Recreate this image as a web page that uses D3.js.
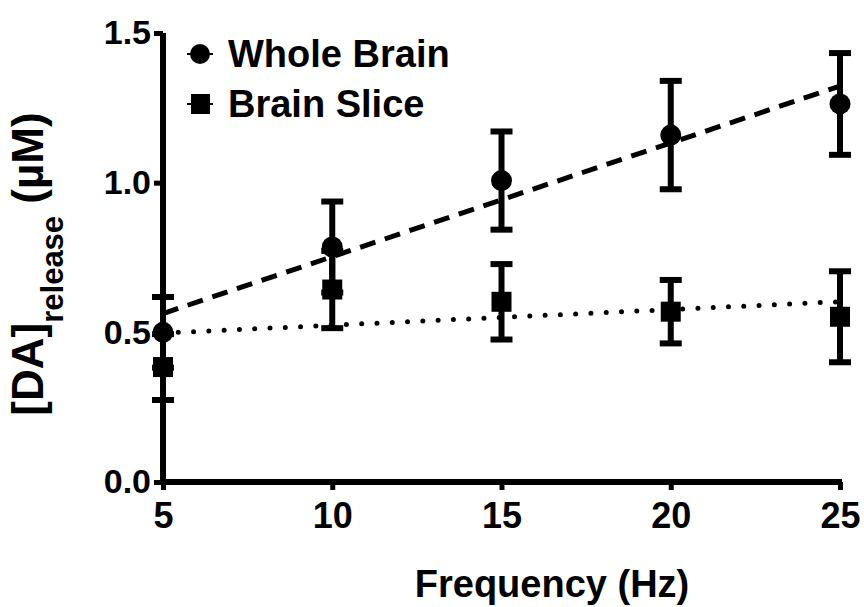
<!DOCTYPE html>
<html>
<head>
<meta charset="utf-8">
<script src="https://cdn.jsdelivr.net/npm/d3@7"></script>
<style>
  html, body { margin: 0; padding: 0; background: #fff; }
  svg { display: block; }
  text { font-family: "Liberation Sans", Arial, sans-serif; font-weight: bold; fill: #000; }
</style>
</head>
<body>
<svg id="chart" width="864" height="607"></svg>
<script>
// Stimulation frequencies (Hz)
const frequencies = [5, 10, 15, 20, 25];

// Whole brain: mean [DA] release (µM) and error (±)
const wholeBrainMean = [0.50, 0.785, 1.007, 1.159, 1.263];
const wholeBrainErr  = [0.118, 0.152, 0.164, 0.181, 0.170];

// Brain slice: mean [DA] release (µM) and error (±)
const brainSliceMean = [0.384, 0.643, 0.602, 0.569, 0.552];
const brainSliceErr  = [0.110, 0.129, 0.126, 0.106, 0.152];

const yTicks = [0.0, 0.5, 1.0, 1.5];
const xTicks = [5, 10, 15, 20, 25];
const seriesNames = ["Whole Brain", "Brain Slice"];

const svg = d3.select("#chart");

const x = d3.scaleLinear().domain([5, 25]).range([163, 840]);
const y = d3.scaleLinear().domain([0, 1.5]).range([482, 33]);

// Least-squares fit for each series
function linearFit(xs, ys) {
  const mx = d3.mean(xs), my = d3.mean(ys);
  const sxy = d3.sum(xs, (v, i) => (v - mx) * (ys[i] - my));
  const sxx = d3.sum(xs, v => (v - mx) * (v - mx));
  const slope = sxy / sxx;
  return v => my + slope * (v - mx);
}
const fitWhole = linearFit(frequencies, wholeBrainMean);
const fitSlice = linearFit(frequencies, brainSliceMean);

const xDom = x.domain();

// Fit lines
svg.append("line")
  .attr("x1", x(xDom[0])).attr("y1", y(fitWhole(xDom[0])))
  .attr("x2", x(xDom[1])).attr("y2", y(fitWhole(xDom[1])))
  .attr("stroke", "#000").attr("stroke-width", 5)
  .attr("stroke-dasharray", "16,10");

svg.append("line")
  .attr("x1", x(xDom[0])).attr("y1", y(fitSlice(xDom[0])))
  .attr("x2", x(xDom[1])).attr("y2", y(fitSlice(xDom[1])))
  .attr("stroke", "#000").attr("stroke-width", 5)
  .attr("stroke-linecap", "round")
  .attr("stroke-dasharray", "0,15.3");

// Error bars
function errorBars(means, errs) {
  const g = svg.append("g").attr("stroke", "#000").attr("stroke-width", 6);
  const capHalf = 11;
  frequencies.forEach((f, i) => {
    const cx = x(f);
    const top = y(means[i] + errs[i]);
    const bot = y(means[i] - errs[i]);
    g.append("line").attr("x1", cx).attr("x2", cx).attr("y1", top).attr("y2", bot);
    g.append("line").attr("x1", cx - capHalf).attr("x2", cx + capHalf).attr("y1", top).attr("y2", top);
    g.append("line").attr("x1", cx - capHalf).attr("x2", cx + capHalf).attr("y1", bot).attr("y2", bot);
  });
}
errorBars(wholeBrainMean, wholeBrainErr);
errorBars(brainSliceMean, brainSliceErr);

// Markers
svg.append("g").selectAll("circle")
  .data(frequencies)
  .join("circle")
  .attr("cx", d => x(d))
  .attr("cy", (d, i) => y(wholeBrainMean[i]))
  .attr("r", 10.5)
  .attr("fill", "#000");

const sq = 20;
svg.append("g").selectAll("rect")
  .data(frequencies)
  .join("rect")
  .attr("x", d => x(d) - sq / 2)
  .attr("y", (d, i) => y(brainSliceMean[i]) - sq / 2)
  .attr("width", sq).attr("height", sq)
  .attr("fill", "#000");

// Axes
const xAxis = d3.axisBottom(x).tickValues(xTicks).tickFormat(d3.format("d")).tickSize(8).tickPadding(12);
const yAxis = d3.axisLeft(y).tickValues(yTicks).tickFormat(d3.format(".1f")).tickSize(9).tickPadding(3);

const gx = svg.append("g").attr("transform", `translate(0,${y(0)})`).call(xAxis);
const gy = svg.append("g").attr("transform", `translate(${x(5)},0)`).call(yAxis);

[gx, gy].forEach(g => {
  g.select(".domain").attr("stroke", "#000").attr("stroke-width", 6);
  g.selectAll(".tick line").attr("stroke", "#000").attr("stroke-width", 5);
  g.selectAll(".tick text")
    .attr("fill", "#000")
    .style("font-family", '"Liberation Sans", Arial, sans-serif')
    .style("font-weight", "bold");
});
gx.selectAll(".tick text").style("font-size", "36px");
gy.selectAll(".tick text").style("font-size", "34px");
// Square-ended axis lines spanning the data range exactly
gx.select(".domain").attr("d", `M${x(5)},0H${x(25) + 2}`);
gy.select(".domain").attr("d", `M0,${y(1.5)}V${y(0)}`);

// Axis titles
svg.append("text")
  .attr("x", 552).attr("y", 597)
  .attr("text-anchor", "middle")
  .style("font-size", "38px")
  .text("Frequency (Hz)");

const yTitle = svg.append("text")
  .attr("transform", "translate(43,264) rotate(-90)")
  .attr("text-anchor", "middle")
  .style("font-size", "44px");
yTitle.append("tspan").text("[DA]");
yTitle.append("tspan").attr("dy", 20).style("font-size", "31px").text("release");
yTitle.append("tspan").attr("dy", -20).text(" (\u00b5M)");

// Legend
const legend = svg.append("g");
const legendRows = [
  { name: seriesNames[0], shape: "circle", y: 54 },
  { name: seriesNames[1], shape: "square", y: 104 }
];
legendRows.forEach(row => {
  legend.append("line")
    .attr("x1", 187).attr("x2", 213)
    .attr("y1", row.y).attr("y2", row.y)
    .attr("stroke", "#000").attr("stroke-width", 2);
  if (row.shape === "circle") {
    legend.append("circle").attr("cx", 200).attr("cy", row.y).attr("r", 10).attr("fill", "#000");
  } else {
    legend.append("rect").attr("x", 191).attr("y", row.y - 10).attr("width", 19).attr("height", 20).attr("fill", "#000");
  }
  legend.append("text")
    .attr("x", 228).attr("y", row.y + 13)
    .style("font-size", "38px")
    .text(row.name);
});
</script>
</body>
</html>
